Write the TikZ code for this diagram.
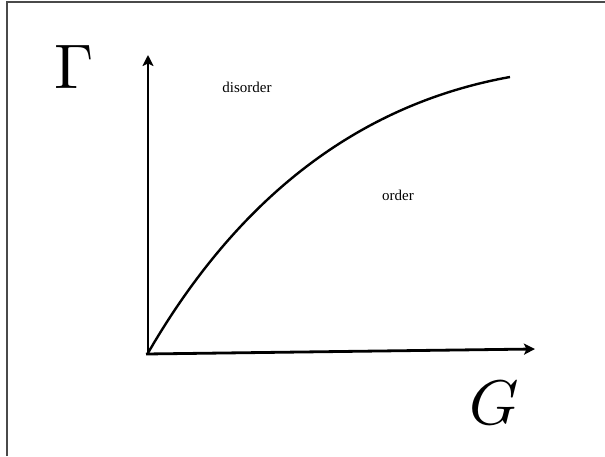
\documentclass[tikz,border=0pt]{standalone}
\usepackage{fontspec}
\newfontfamily\tnr{Liberation Serif}
\usepackage{tikz}
\usetikzlibrary{arrows.meta}
\definecolor{cFrame}{HTML}{4a4a4a}
\tikzset{
  axis/.style={-{Stealth[length=11pt,width=11pt,inset=2.5pt]},line width=2.8pt,black},
  phase/.style={line width=2.4pt,black},
  region/.style={font=\tnr\fontsize{15}{17}\selectfont,inner sep=0pt},
  bigsym/.style={scale=6.3,inner sep=0pt},
  frameline/.style={line width=1.4pt,cFrame},
}

\begin{document}
\begin{tikzpicture}[x=1pt,y=1pt]
  \useasboundingbox (0,0) rectangle (605,456);
  % frame (left and top only)
  \coordinate (fbl) at (7,0);
  \coordinate (ftl) at (7,454);
  \coordinate (ftr) at (605,454);
  \draw[frameline] (fbl) -- (ftl) -- (ftr);
  % axes
  \coordinate (O) at (148,103);
  \coordinate (xstart) at (146,102);
  \coordinate (ytip) at (148,401);
  \coordinate (xtip) at (535,107);
  \draw[axis] (O) -- (ytip);
  \draw[axis] (xstart) -- (xtip);
  % transition line
  \coordinate (cend) at (510,379);
  \draw[phase] (O) .. controls (239,260) and (360,352) .. (cend);
  % labels
  \node[bigsym] (gam) at (74,389) {$\Gamma$};
  \node[bigsym] (gee) at (494,53) {$G$};
  \node[region] (dis) at (247,369) {disorder};
  \node[region] (ord) at (398,261) {order};
\end{tikzpicture}
\end{document}
